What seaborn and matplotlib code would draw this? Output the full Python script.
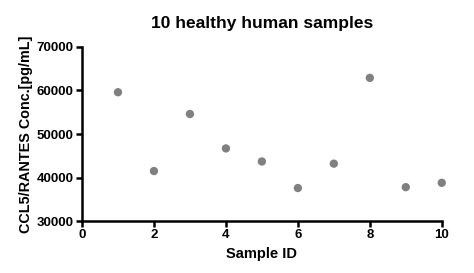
import pandas as pd
import seaborn as sns
import matplotlib.pyplot as plt

# Data
sample_id = [1, 2, 3, 4, 5, 6, 7, 8, 9, 10]
ccl5_conc = [59600, 41500, 54600, 46700, 43700, 37600, 43200, 62900, 37800, 38800]
x_ticks = [0, 2, 4, 6, 8, 10]
y_ticks = [30000, 40000, 50000, 60000, 70000]

data = pd.DataFrame({"Sample ID": sample_id, "Conc": ccl5_conc})

sns.set_style("ticks")
plt.rcParams['font.family'] = ['Liberation Sans', 'DejaVu Sans']
plt.rcParams['font.weight'] = 'bold'
plt.rcParams['text.color'] = 'black'
plt.rcParams['axes.labelcolor'] = 'black'
plt.rcParams['xtick.color'] = 'black'
plt.rcParams['ytick.color'] = 'black'

fig = plt.figure(figsize=(4.74, 2.73), dpi=100)
ax = fig.add_axes([0.173, 0.19, 0.759, 0.638])

sns.scatterplot(data=data, x="Sample ID", y="Conc", ax=ax, color="#808080",
                s=36, edgecolor="none", clip_on=False)

ax.set_xlim(0, 10)
ax.set_ylim(30000, 70000)
ax.set_xticks(x_ticks)
ax.set_yticks(y_ticks)
ax.set_xticklabels([str(v) for v in x_ticks], fontweight='bold', fontsize=9.5)
ax.set_yticklabels([str(v) for v in y_ticks], fontweight='bold', fontsize=9.5)
ax.tick_params(direction='out', length=4, width=1.8, color='black', pad=2)

for side in ['top', 'right']:
    ax.spines[side].set_visible(False)
for side in ['left', 'bottom']:
    ax.spines[side].set_linewidth(1.8)
    ax.spines[side].set_color('black')

ax.set_xlabel("Sample ID", fontweight='bold', fontsize=10.5, labelpad=4)
ax.set_ylabel("CCL5/RANTES Conc.[pg/mL]", fontweight='bold', fontsize=10.4, labelpad=3)
ax.set_title("10 healthy human samples", fontweight='bold', fontsize=12.5, pad=14)

plt.savefig("out.png", dpi=100)
plt.close()
